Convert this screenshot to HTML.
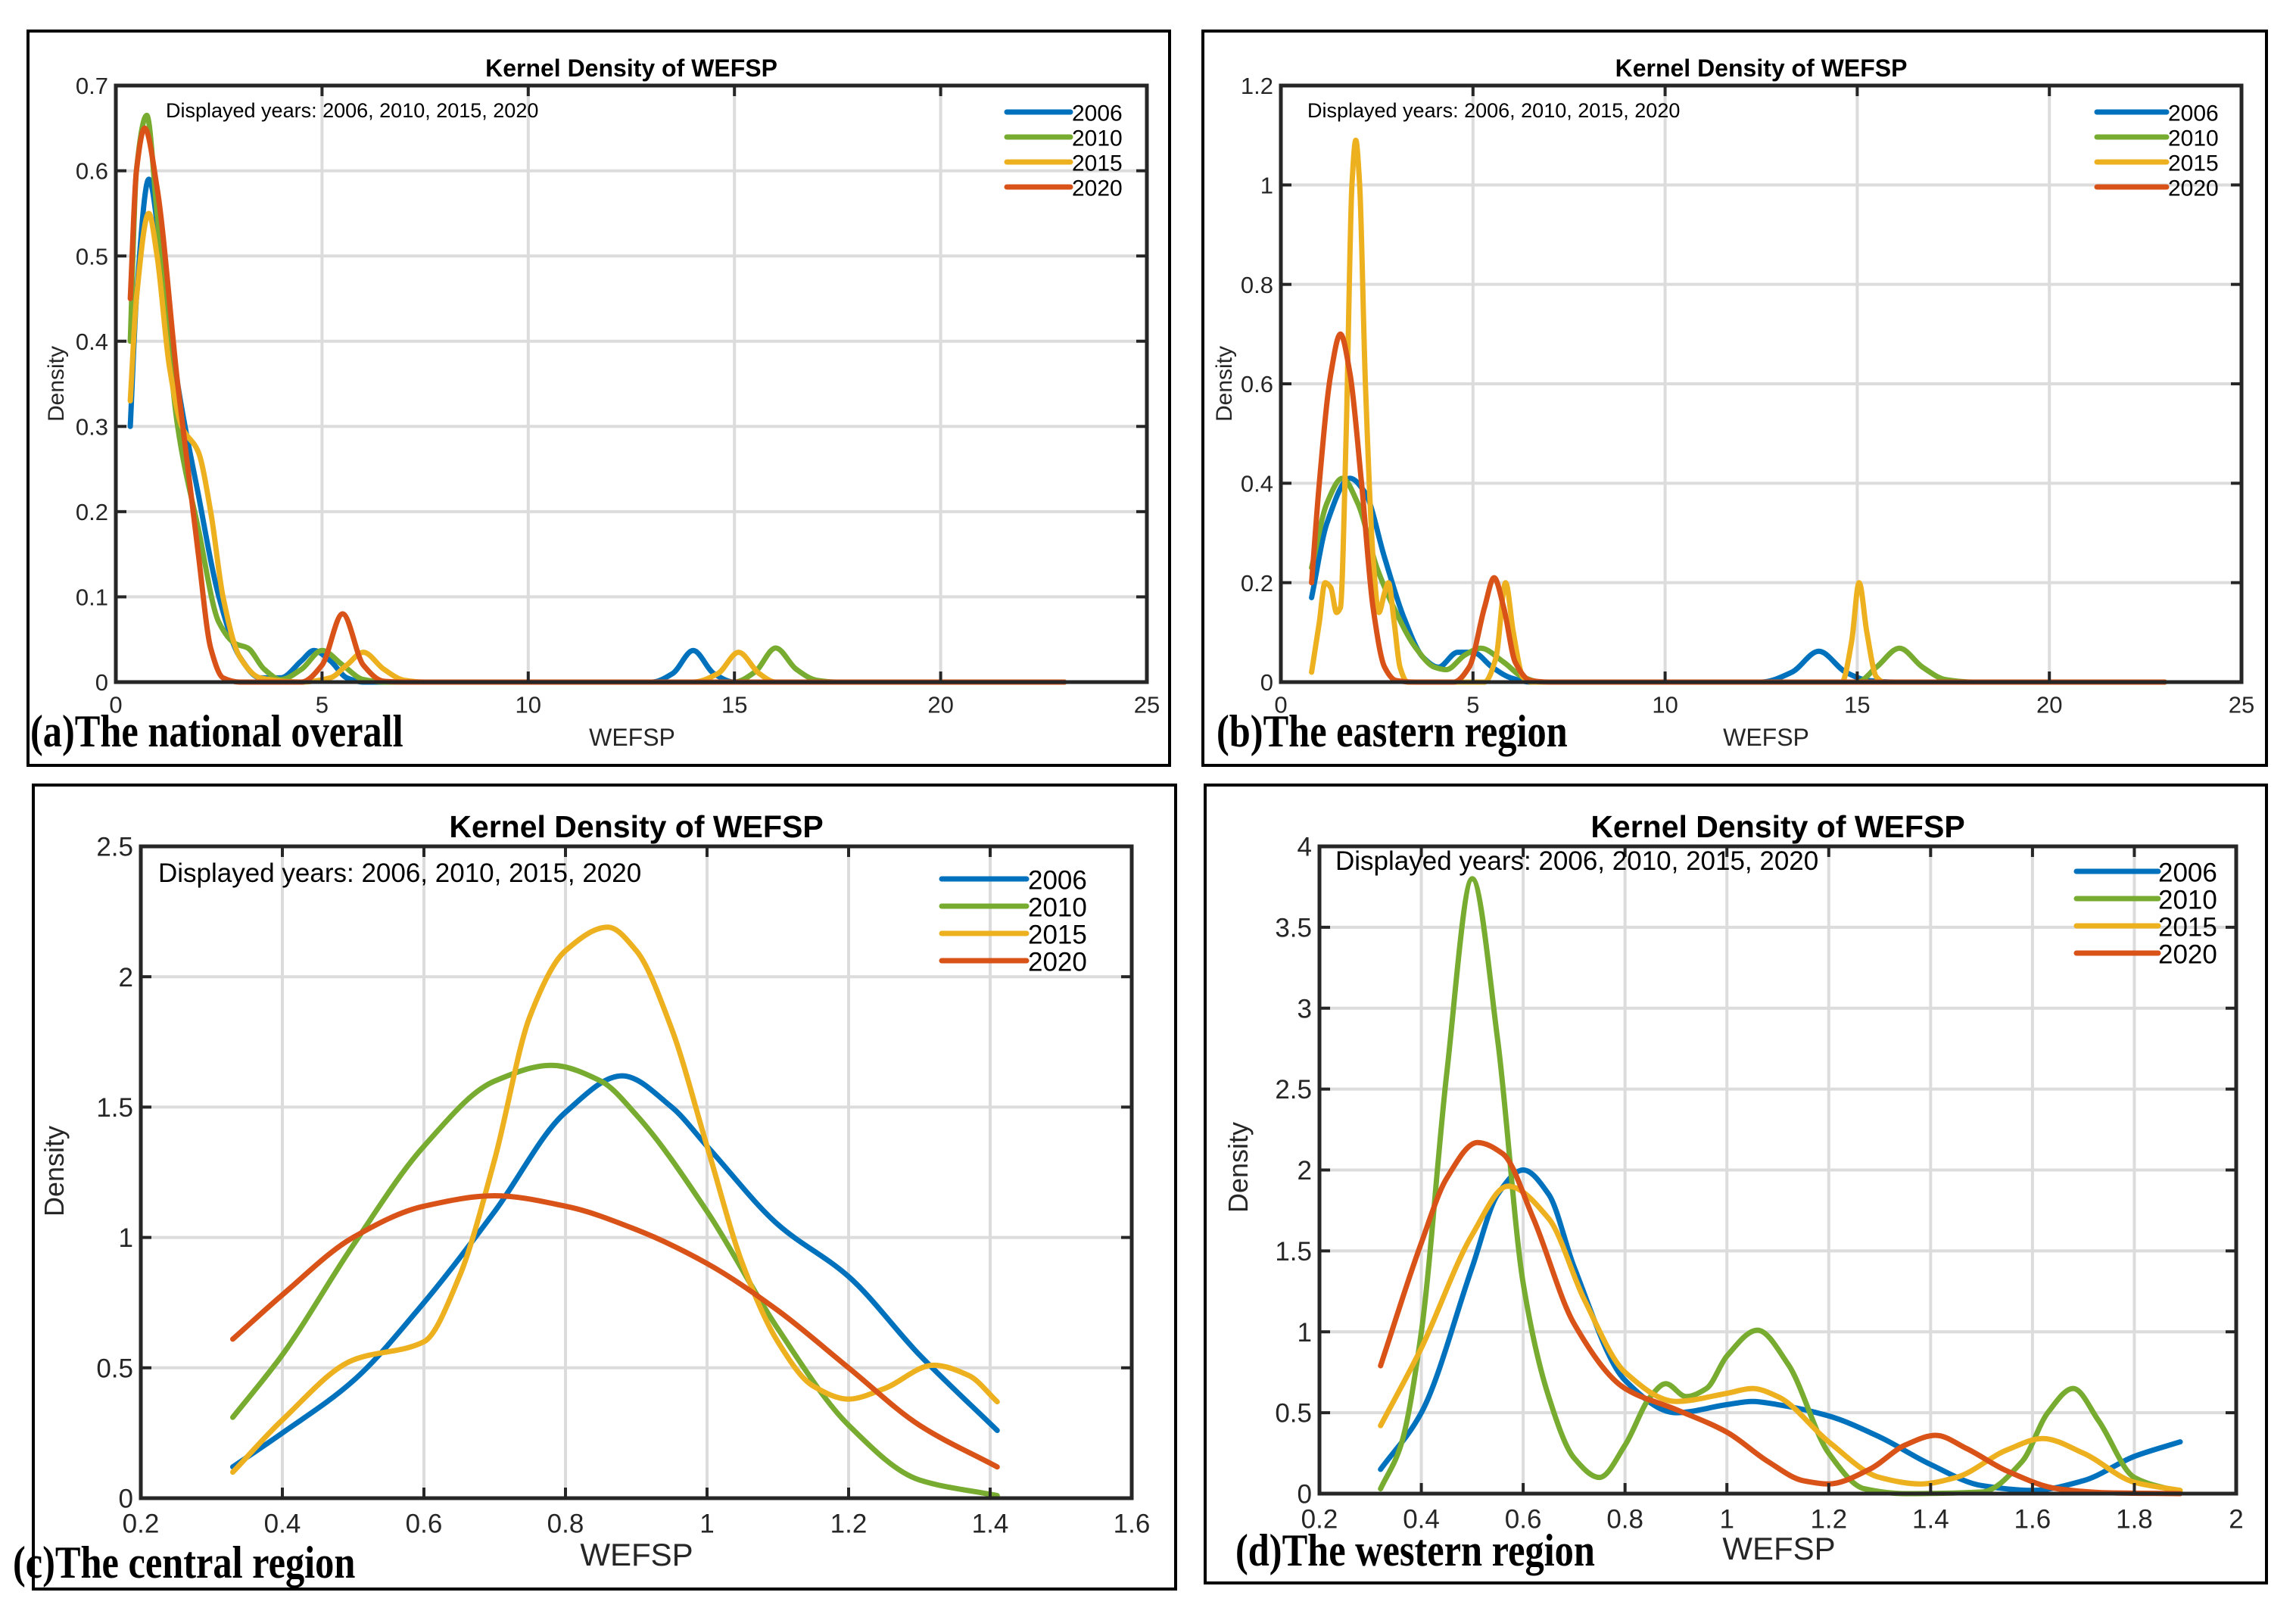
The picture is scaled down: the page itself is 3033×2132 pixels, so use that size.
<!DOCTYPE html>
<html><head><meta charset="utf-8"><style>
html,body{margin:0;padding:0;background:#fff}
svg{display:block}
</style></head><body>
<svg id="fig" width="3033" height="2132" viewBox="0 0 3033 2132" xmlns="http://www.w3.org/2000/svg"></svg>
<script>
// ---------- DATA ----------
const years = ["2006","2010","2015","2020"];
const colors = ["#0072BD","#77AC30","#EDB120","#D95319"];

// Panel a: national overall
const aX2006 = [0.35,0.5,0.8,1.1,1.5,2.0,2.5,3.0,3.5,4.0,4.5,4.8,5.2,5.6,6.0,13.0,13.5,14.0,14.5,15.0,23.0];
const aY2006 = [0.30,0.45,0.59,0.50,0.35,0.22,0.10,0.03,0.005,0.005,0.025,0.037,0.025,0.005,0,0,0.01,0.037,0.01,0,0];
const aX2010 = [0.35,0.5,0.75,1.0,1.5,2.0,2.5,2.9,3.2,3.6,4.0,4.5,5.0,5.5,6.0,6.5,15.0,15.5,16.0,16.5,17.0,17.5,23.0];
const aY2010 = [0.40,0.60,0.665,0.55,0.30,0.18,0.07,0.045,0.04,0.015,0.003,0.015,0.037,0.02,0.003,0,0,0.012,0.04,0.015,0.002,0,0];
const aX2015 = [0.35,0.5,0.8,1.0,1.3,1.6,2.0,2.3,2.6,3.0,3.5,4.5,5.2,5.6,6.0,6.5,7.0,7.5,14.0,14.6,15.1,15.6,16.0,23.0];
const aY2015 = [0.33,0.45,0.55,0.50,0.37,0.30,0.27,0.20,0.10,0.03,0.005,0,0.005,0.02,0.035,0.015,0.002,0,0,0.01,0.035,0.01,0,0];
const aX2020 = [0.35,0.5,0.7,1.0,1.5,2.0,2.3,2.6,3.0,4.5,5.0,5.5,6.0,6.5,7.0,23.0];
const aY2020 = [0.45,0.60,0.65,0.58,0.35,0.15,0.04,0.005,0,0,0.02,0.08,0.02,0.001,0,0];

// Panel b: eastern region
const bX2006 = [0.8,1.2,1.8,2.2,2.7,3.2,3.7,4.1,4.6,5.0,5.5,6.0,6.5,12.5,13.3,14.0,14.7,15.3,16.0,23.0];
const bY2006 = [0.17,0.32,0.41,0.38,0.25,0.13,0.05,0.03,0.06,0.06,0.03,0.008,0,0,0.02,0.062,0.02,0.003,0,0];
const bX2010 = [0.8,1.2,1.6,2.0,2.5,3.0,3.5,4.0,4.3,4.8,5.2,5.8,6.3,6.8,15.0,15.5,16.1,16.7,17.3,18.0,23.0];
const bY2010 = [0.23,0.36,0.41,0.36,0.23,0.14,0.07,0.03,0.025,0.055,0.068,0.04,0.01,0,0,0.03,0.068,0.03,0.005,0,0];
const bX2015 = [0.8,1.0,1.15,1.3,1.45,1.55,1.7,1.85,1.95,2.05,2.2,2.4,2.55,2.7,2.8,2.95,3.1,3.3,5.3,5.6,5.85,6.05,6.3,6.5,14.6,14.85,15.05,15.25,15.5,15.7,23.0];
const bY2015 = [0.02,0.12,0.20,0.19,0.14,0.15,0.50,1.00,1.09,1.00,0.60,0.25,0.14,0.18,0.20,0.12,0.03,0,0,0.05,0.20,0.10,0.01,0,0,0.08,0.20,0.10,0.01,0,0];
const bX2020 = [0.8,1.0,1.3,1.55,1.8,2.1,2.4,2.7,3.0,3.5,4.5,4.9,5.3,5.55,5.8,6.1,6.5,7.0,23.0];
const bY2020 = [0.20,0.40,0.62,0.70,0.62,0.40,0.15,0.03,0.003,0,0,0.03,0.15,0.21,0.15,0.04,0.003,0,0];

// Panel c: central region
const cX2006 = [0.33,0.4,0.5,0.6,0.7,0.8,0.88,0.95,1.0,1.1,1.2,1.3,1.41];
const cY2006 = [0.12,0.25,0.45,0.75,1.10,1.48,1.62,1.50,1.35,1.05,0.85,0.55,0.26];
const cX2010 = [0.33,0.4,0.5,0.6,0.7,0.78,0.85,0.9,1.0,1.1,1.2,1.3,1.41];
const cY2010 = [0.31,0.55,0.97,1.35,1.60,1.66,1.60,1.47,1.10,0.65,0.28,0.07,0.01];
const cX2015 = [0.33,0.4,0.5,0.6,0.65,0.7,0.75,0.8,0.86,0.9,0.95,1.0,1.05,1.1,1.15,1.2,1.25,1.32,1.37,1.41];
const cY2015 = [0.10,0.30,0.53,0.60,0.85,1.30,1.85,2.10,2.19,2.10,1.80,1.35,0.90,0.60,0.43,0.38,0.42,0.51,0.47,0.37];
const cX2020 = [0.33,0.4,0.5,0.6,0.7,0.8,0.9,1.0,1.1,1.2,1.3,1.41];
const cY2020 = [0.61,0.78,1.00,1.12,1.16,1.12,1.03,0.90,0.72,0.50,0.28,0.12];

// Panel d: western region
const dX2006 = [0.32,0.4,0.5,0.55,0.6,0.65,0.7,0.8,0.9,1.0,1.05,1.1,1.2,1.3,1.4,1.5,1.6,1.7,1.8,1.89];
const dY2006 = [0.15,0.50,1.40,1.85,2.00,1.85,1.40,0.70,0.50,0.55,0.57,0.55,0.48,0.35,0.18,0.05,0.02,0.08,0.23,0.32];
const dX2010 = [0.32,0.36,0.4,0.45,0.5,0.55,0.6,0.65,0.7,0.75,0.8,0.85,0.88,0.92,0.96,1.0,1.06,1.12,1.2,1.27,1.35,1.5,1.58,1.63,1.68,1.73,1.8,1.89];
const dY2010 = [0.03,0.30,1.00,2.60,3.80,2.80,1.30,0.60,0.22,0.10,0.30,0.60,0.68,0.60,0.65,0.85,1.01,0.80,0.25,0.03,0,0.01,0.20,0.50,0.65,0.45,0.10,0.01];
const dX2015 = [0.32,0.4,0.5,0.57,0.65,0.72,0.8,0.9,1.0,1.05,1.1,1.2,1.3,1.38,1.45,1.55,1.62,1.7,1.8,1.89];
const dY2015 = [0.42,0.90,1.60,1.90,1.70,1.20,0.75,0.57,0.62,0.65,0.60,0.32,0.10,0.06,0.10,0.27,0.34,0.25,0.07,0.02];
const dX2020 = [0.32,0.4,0.45,0.51,0.56,0.62,0.7,0.8,0.9,1.0,1.08,1.15,1.2,1.28,1.35,1.41,1.47,1.55,1.65,1.75,1.89];
const dY2020 = [0.79,1.55,1.95,2.17,2.10,1.70,1.05,0.65,0.52,0.38,0.20,0.08,0.06,0.15,0.30,0.36,0.28,0.14,0.03,0.005,0];

const aXTicks = [0,5,10,15,20,25];
const aYTicks = [0,0.1,0.2,0.3,0.4,0.5,0.6,0.7];
const bYTicks = [0,0.2,0.4,0.6,0.8,1,1.2];
const cXTicks = [0.2,0.4,0.6,0.8,1,1.2,1.4,1.6];
const cYTicks = [0,0.5,1,1.5,2,2.5];
const dXTicks = [0.2,0.4,0.6,0.8,1,1.2,1.4,1.6,1.8,2];
const dYTicks = [0,0.5,1,1.5,2,2.5,3,3.5,4];

// ---------- DRAW ----------
const NS = "http://www.w3.org/2000/svg";
const svg = document.getElementById('fig');
function mk(tag, attrs, parent, txt){
  const e = document.createElementNS(NS, tag);
  for (const k in attrs) e.setAttribute(k, attrs[k]);
  if (txt !== undefined) e.textContent = txt;
  (parent||svg).appendChild(e);
  return e;
}
function smoothPath(pts){
  const n = pts.length;
  const dx=[], m=[], t=new Array(n);
  for (let i=0;i<n-1;i++){ dx[i]=pts[i+1][0]-pts[i][0]; m[i]=(pts[i+1][1]-pts[i][1])/dx[i]; }
  t[0]=m[0]; t[n-1]=m[n-2];
  for (let i=1;i<n-1;i++){
    if (m[i-1]*m[i]<=0) t[i]=0;
    else { const w1=2*dx[i]+dx[i-1], w2=dx[i]+2*dx[i-1]; t[i]=(w1+w2)/(w1/m[i-1]+w2/m[i]); }
  }
  let d = "M"+pts[0][0].toFixed(1)+","+pts[0][1].toFixed(1);
  for (let i=0;i<n-1;i++){
    const h=dx[i]/3;
    d += " C"+(pts[i][0]+h).toFixed(1)+","+(pts[i][1]+t[i]*h).toFixed(1)+" "+(pts[i+1][0]-h).toFixed(1)+","+(pts[i+1][1]-t[i+1]*h).toFixed(1)+" "+pts[i+1][0].toFixed(1)+","+pts[i+1][1].toFixed(1);
  }
  return d;
}
function fmt(v){ return String(v); }

const panels = [
  {id:"a", frame:[37,41,1508,970], plot:[153,113,1515,901], xr:[0,25], yr:[0,0.7], xt:aXTicks, yt:aYTicks,
   series:[[aX2006,aY2006],[aX2010,aY2010],[aX2015,aY2015],[aX2020,aY2020]], narrow:true,
   leg:[1330,1414,1416,148,33], ann:[219,155], label:"(a)The national overall", lab:[40,986],
   tick:31, title:32, annF:27, legF:30, xlab:[835,985], ylab:[84,507], xlf:32, ylf:30},
  {id:"b", frame:[1589,41,1405,970], plot:[1692,113,2961,901], xr:[0,25], yr:[0,1.2], xt:aXTicks, yt:bYTicks,
   series:[[bX2006,bY2006],[bX2010,bY2010],[bX2015,bY2015],[bX2020,bY2020]], narrow:true,
   leg:[2770,2862,2864,148,33], ann:[1727,155], label:"(b)The eastern region", lab:[1607,986],
   tick:31, title:32, annF:27, legF:30, xlab:[2333,985], ylab:[1627,507], xlf:32, ylf:30},
  {id:"c", frame:[44,1037,1509,1062], plot:[186,1118,1495,1979], xr:[0.2,1.6], yr:[0,2.5], xt:cXTicks, yt:cYTicks,
   series:[[cX2006,cY2006],[cX2010,cY2010],[cX2015,cY2015],[cX2020,cY2020]], narrow:false,
   leg:[1244,1356,1358,1161,36], ann:[209,1165], label:"(c)The central region", lab:[17,2084],
   tick:35, title:41, annF:35, legF:35, xlab:[841,2068], ylab:[84,1547], xlf:42, ylf:36},
  {id:"d", frame:[1592,1037,1402,1054], plot:[1743,1118,2954,1973], xr:[0.2,2], yr:[0,4], xt:dXTicks, yt:dYTicks,
   series:[[dX2006,dY2006],[dX2010,dY2010],[dX2015,dY2015],[dX2020,dY2020]], narrow:false,
   leg:[2743,2851,2851,1151,36], ann:[1764,1149], label:"(d)The western region", lab:[1632,2068],
   tick:35, title:41, annF:35, legF:35, xlab:[2350,2060], ylab:[1648,1542], xlf:42, ylf:36}
];

panels.forEach(P=>{
  const g = mk('g',{});
  
  
  const [x0,y0,x1,y1]=P.plot;
  const sx = v => x0+(v-P.xr[0])/(P.xr[1]-P.xr[0])*(x1-x0);
  const sy = v => y1-(v-P.yr[0])/(P.yr[1]-P.yr[0])*(y1-y0);
  const fam = P.narrow ? '"Liberation Sans Narrow","Liberation Sans",sans-serif' : '"Liberation Sans",sans-serif';
  const fr = mk('rect',{x:P.frame[0],y:P.frame[1],width:P.frame[2],height:P.frame[3],fill:'none',stroke:'#000','stroke-width':4},g);
  
  
  P.xt.forEach(t=>{ if(t>P.xr[0]&&t<P.xr[1]){ const l=mk('line',{x1:sx(t),x2:sx(t),y1:y0,y2:y1,stroke:'#dcdcdc','stroke-width':4},g);   }});
  P.yt.forEach(t=>{ if(t>P.yr[0]&&t<P.yr[1]){ const l=mk('line',{x1:x0,x2:x1,y1:sy(t),y2:sy(t),stroke:'#dcdcdc','stroke-width':4},g);   }});
  P.series.forEach((s,i)=>{
    const pts = s[0].map((xv,k)=>[sx(xv),sy(s[1][k])]);
    const p = mk('path',{d:smoothPath(pts),fill:'none',stroke:colors[i],'stroke-width':7,'stroke-linejoin':'round','stroke-linecap':'round'},g);
    
    
  });
  const ax = mk('rect',{x:x0,y:y0,width:x1-x0,height:y1-y0,fill:'none',stroke:'#262626','stroke-width':5},g);
  
  
  P.xt.forEach(t=>{
    mk('line',{x1:sx(t),x2:sx(t),y1:y1,y2:y1-14,stroke:'#262626','stroke-width':4},g);
    mk('line',{x1:sx(t),x2:sx(t),y1:y0,y2:y0+14,stroke:'#262626','stroke-width':4},g);
    const tx = mk('text',{x:sx(t),y:y1+P.tick*1.3,'text-anchor':'middle',style:'font-size:'+P.tick+'px;font-family:'+fam,fill:'#262626'},g,fmt(t));
    
    
  });
  P.yt.forEach(t=>{
    mk('line',{x1:x0,x2:x0+14,y1:sy(t),y2:sy(t),stroke:'#262626','stroke-width':4},g);
    mk('line',{x1:x1,x2:x1-14,y1:sy(t),y2:sy(t),stroke:'#262626','stroke-width':4},g);
    const tx = mk('text',{x:x0-10,y:sy(t)+P.tick*0.36,'text-anchor':'end',style:'font-size:'+P.tick+'px;font-family:'+fam,fill:'#262626'},g,fmt(t));
    
    
  });
  const ti = mk('text',{x:(x0+x1)/2,y:y0-12,'text-anchor':'middle',style:'font-size:'+P.title+'px;font-weight:bold;font-family:'+fam,fill:'#000'},g,'Kernel Density of WEFSP');
  
  
  const an = mk('text',{x:P.ann[0],y:P.ann[1],style:'font-size:'+P.annF+'px;font-family:'+fam,fill:'#000'},g,'Displayed years: 2006, 2010, 2015, 2020');
  
  
  const xl = mk('text',{x:P.xlab[0],y:P.xlab[1],'text-anchor':'middle',style:'font-size:'+P.xlf+'px;font-family:"Liberation Sans",sans-serif',fill:'#262626'},g,'WEFSP');
  
  
  const yl = mk('text',{x:P.ylab[0],y:P.ylab[1],'text-anchor':'middle',style:'font-size:'+P.ylf+'px;font-family:"Liberation Sans",sans-serif',fill:'#262626',transform:'rotate(-90 '+P.ylab[0]+' '+P.ylab[1]+')'},g,'Density');
  
  
  const [lx0,lx1,tx0,ly0,dy]=P.leg;
  years.forEach((yr,i)=>{
    const le = mk('g',{},g);
    
    
    mk('line',{x1:lx0,x2:lx1,y1:ly0+i*dy,y2:ly0+i*dy,stroke:colors[i],'stroke-width':7,'stroke-linecap':'round'},le);
    mk('text',{x:tx0,y:ly0+i*dy+P.legF*0.38,style:'font-size:'+P.legF+'px;font-family:'+fam,fill:'#000'},le,yr);
  });
  const lb = mk('text',{x:P.lab[0],y:P.lab[1],style:'font-size:60px;font-weight:bold;font-family:"Liberation Serif",serif',fill:'#000',transform:'translate('+P.lab[0]+' 0) scale(0.84 1) translate('+(-P.lab[0])+' 0)'},g,P.label);
  
  
});
</script>
</body></html>
